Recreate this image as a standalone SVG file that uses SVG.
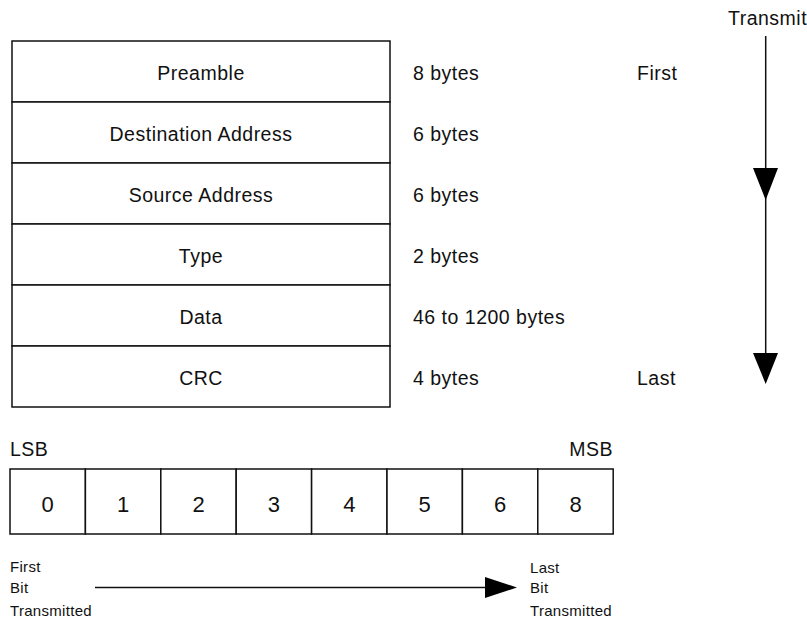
<svg xmlns="http://www.w3.org/2000/svg" width="807" height="619" viewBox="0 0 807 619">
<style>
  text { font-family: "Liberation Sans", Arial, sans-serif; fill: #111; }
  .lbl { font-size: 19.5px; letter-spacing: 0.5px; }
  .dig { font-size: 22px; text-anchor: middle; }
  .mid { text-anchor: middle; }
  .sm { font-size: 15px; letter-spacing: 0.3px; }
  .box { fill: #fff; stroke: #111; stroke-width: 1.5; }
  .ln { stroke: #111; stroke-width: 1.5; fill: none; }
  .ah { fill: #000; stroke: none; }
</style>
<rect width="807" height="619" fill="#fff"/>

<g id="frame">
  <g id="preamble"><rect class="box" x="12" y="41" width="378" height="61"/><text class="lbl mid" x="201" y="80">Preamble</text><text class="lbl" x="413" y="80">8 bytes</text><text class="lbl" x="637" y="80">First</text></g>
  <g id="dest"><rect class="box" x="12" y="102" width="378" height="61"/><text class="lbl mid" x="201" y="141">Destination Address</text><text class="lbl" x="413" y="141">6 bytes</text></g>
  <g id="src"><rect class="box" x="12" y="163" width="378" height="61"/><text class="lbl mid" x="201" y="202">Source Address</text><text class="lbl" x="413" y="202">6 bytes</text></g>
  <g id="type"><rect class="box" x="12" y="224" width="378" height="61"/><text class="lbl mid" x="201" y="263">Type</text><text class="lbl" x="413" y="263">2 bytes</text></g>
  <g id="data"><rect class="box" x="12" y="285" width="378" height="61"/><text class="lbl mid" x="201" y="324">Data</text><text class="lbl" x="413" y="324">46 to 1200 bytes</text></g>
  <g id="crc"><rect class="box" x="12" y="346" width="378" height="61"/><text class="lbl mid" x="201" y="385">CRC</text><text class="lbl" x="413" y="385">4 bytes</text><text class="lbl" x="637" y="385">Last</text></g>
</g>

<g id="transmit"><text class="lbl" x="728" y="25">Transmit</text></g>

<g id="bits">
  <text class="lbl" x="10" y="456">LSB</text>
  <text class="lbl" x="613" y="456" text-anchor="end">MSB</text>
  <g id="b0"><rect class="box" x="10" y="469" width="75.4" height="65"/><text class="dig" x="47.7" y="512">0</text></g>
  <g id="b1"><rect class="box" x="85.4" y="469" width="75.4" height="65"/><text class="dig" x="123.1" y="512">1</text></g>
  <g id="b2"><rect class="box" x="160.8" y="469" width="75.4" height="65"/><text class="dig" x="198.5" y="512">2</text></g>
  <g id="b3"><rect class="box" x="236.2" y="469" width="75.4" height="65"/><text class="dig" x="273.9" y="512">3</text></g>
  <g id="b4"><rect class="box" x="311.6" y="469" width="75.4" height="65"/><text class="dig" x="349.3" y="512">4</text></g>
  <g id="b5"><rect class="box" x="387" y="469" width="75.4" height="65"/><text class="dig" x="424.7" y="512">5</text></g>
  <g id="b6"><rect class="box" x="462.4" y="469" width="75.4" height="65"/><text class="dig" x="500.1" y="512">6</text></g>
  <g id="b8"><rect class="box" x="537.8" y="469" width="75.4" height="65"/><text class="dig" x="575.5" y="512">8</text></g>
</g>

<g id="firstbit"><text class="sm" x="10" y="572">First</text><text class="sm" x="10" y="593">Bit</text><text class="sm" x="10" y="616">Transmitted</text></g>
<g id="lastbit"><text class="sm" x="530" y="573">Last</text><text class="sm" x="530" y="593">Bit</text><text class="sm" x="530" y="616">Transmitted</text></g>

<g id="connectors">
  <line class="ln" x1="765.7" y1="36" x2="765.7" y2="370"/>
  <polygon class="ah" points="753,168 778,168 765.7,200"/>
  <polygon class="ah" points="753,353 778,353 765.7,384"/>
  <line class="ln" x1="95" y1="587.5" x2="490" y2="587.5"/>
  <polygon class="ah" points="485,577 517,587.5 485,598"/>
</g>
</svg>
